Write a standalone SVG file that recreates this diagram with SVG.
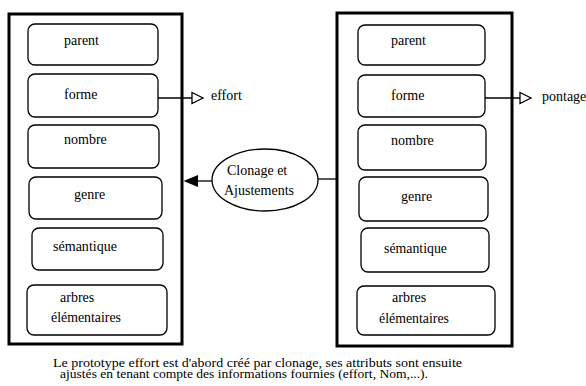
<svg xmlns="http://www.w3.org/2000/svg" width="586" height="386" viewBox="0 0 586 386">
<style>
.outer{fill:#fff;stroke:#000;stroke-width:3}
.box{fill:#fff;stroke:#000;stroke-width:1.3}
text{font-family:'Liberation Serif','DejaVu Serif','Times New Roman',Times,serif;fill:#000}
.t{font-size:14px}
.e{font-size:14px}
.c{font-size:11.5px}
.ln{fill:none;stroke:#000;stroke-width:1.3}
</style>
<rect width="586" height="386" fill="#fff"/>
<g id="proto-left">
<rect class="outer" x="9" y="14" width="173" height="330"/>
<g id="l-parent"><rect class="box" x="28" y="24" width="130" height="41" rx="7"/><text class="t" x="64" y="45">parent</text></g>
<g id="l-forme"><rect class="box" x="28" y="74" width="130" height="43" rx="7"/><text class="t" x="64" y="99">forme</text></g>
<g id="l-nombre"><rect class="box" x="28" y="125" width="131" height="43" rx="7"/><text class="t" x="64" y="144">nombre</text></g>
<g id="l-genre"><rect class="box" x="29" y="177" width="133" height="42" rx="7"/><text class="t" x="74" y="199">genre</text></g>
<g id="l-semantique"><rect class="box" x="32" y="228" width="131" height="42" rx="7"/><text class="t" x="53" y="251" textLength="64" lengthAdjust="spacingAndGlyphs">sémantique</text></g>
<g id="l-arbres"><rect class="box" x="27" y="285" width="140" height="50" rx="7"/><text class="t" x="60" y="302">arbres</text><text class="t" x="51" y="322" textLength="70" lengthAdjust="spacingAndGlyphs">élémentaires</text></g>
</g>
<g id="proto-right">
<rect class="outer" x="337" y="13" width="175" height="333"/>
<g id="r-parent"><rect class="box" x="358" y="25" width="127" height="40" rx="7"/><text class="t" x="391" y="45">parent</text></g>
<g id="r-forme"><rect class="box" x="358" y="75" width="127" height="42" rx="7"/><text class="t" x="391" y="100">forme</text></g>
<g id="r-nombre"><rect class="box" x="358" y="125" width="128" height="45" rx="7"/><text class="t" x="391" y="145">nombre</text></g>
<g id="r-genre"><rect class="box" x="359" y="177" width="129" height="44" rx="7"/><text class="t" x="401" y="201">genre</text></g>
<g id="r-semantique"><rect class="box" x="361" y="228" width="128" height="44" rx="7"/><text class="t" x="384" y="253" textLength="63" lengthAdjust="spacingAndGlyphs">sémantique</text></g>
<g id="r-arbres"><rect class="box" x="357" y="286" width="138" height="49" rx="7"/><text class="t" x="392" y="302">arbres</text><text class="t" x="379" y="323" textLength="70" lengthAdjust="spacingAndGlyphs">élémentaires</text></g>
</g>
<g id="clonage">
<ellipse class="box" cx="265" cy="180" rx="53" ry="31"/>
<text class="e" x="227" y="175">Clonage et</text>
<text class="e" x="224" y="195">Ajustements</text>
</g>
<g id="connectors">
<line class="ln" x1="158" y1="98" x2="192" y2="98"/>
<polygon points="192,92.5 203,98 192,103.5" fill="#fff" stroke="#000" stroke-width="1.3"/>
<line class="ln" x1="485" y1="98" x2="520" y2="98"/>
<polygon points="520,92.5 531,98 520,103.5" fill="#fff" stroke="#000" stroke-width="1.3"/>
<line class="ln" x1="198" y1="181" x2="212" y2="181"/>
<polygon points="183.5,181 198,175 198,187" fill="#000"/>
<line class="ln" x1="318" y1="179" x2="337" y2="179"/>
</g>
<text class="e" x="211" y="100">effort</text>
<text class="e" x="542" y="101">pontage</text>
<text class="c" x="53" y="367" textLength="409" lengthAdjust="spacingAndGlyphs">Le prototype effort est d'abord créé par clonage, ses attributs sont ensuite</text>
<text class="c" x="60" y="378" textLength="368" lengthAdjust="spacingAndGlyphs">ajustés en tenant compte des informations fournies (effort, Nom,...).</text>
</svg>
